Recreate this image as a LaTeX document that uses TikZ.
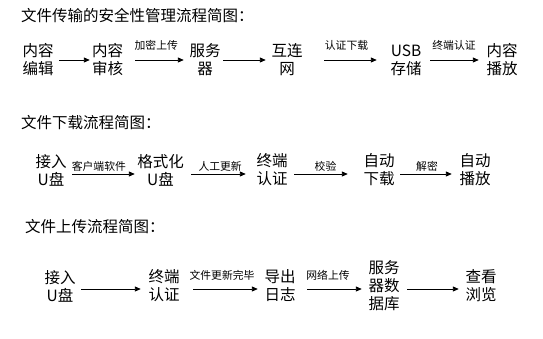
\documentclass[tikz,border=0pt]{standalone}
\usepackage{fontspec}
\setmainfont{Noto Sans CJK SC}
\usetikzlibrary{arrows.meta}

\begin{document}
\begin{tikzpicture}[
        x=1pt, y=-1pt,
        title/.style={anchor=west, inner sep=0pt, font=\fontsize{15.5}{18}\selectfont},
        stepbox/.style={inner sep=0pt, align=center, font=\fontsize{15.5}{18}\selectfont},
        lbl/.style={inner sep=0pt, font=\fontsize{10.8}{12}\selectfont, yshift=#1},
        arr/.style={-{Triangle[length=6pt, width=5pt]}, line width=0.9pt},
        sh/.style 2 args={shorten <=#1pt, shorten >=#2pt}
    ]
        \useasboundingbox (0,0) rectangle (543,338);

        % 安全性管理流程
        \node[title] (t1) at (21,16) {文件传输的安全性管理流程简图：};
        \node[stepbox] (edit)   at (38,60)    {内容\\编辑};
        \node[stepbox] (review) at (107.5,60) {内容\\审核};
        \node[stepbox] (server) at (205,60)   {服务\\器};
        \node[stepbox] (net)    at (287,60)   {互连\\网};
        \node[stepbox] (usb)    at (406,60)   {USB\\存储};
        \node[stepbox] (play)   at (502,60)   {内容\\播放};

        \draw[arr, sh={5.5}{2}] (edit) -- (review);
        \draw[arr, sh={12}{5.5}] (review) -- node[lbl=15pt]{加密上传} (server);
        \draw[arr, sh={2.5}{5.5}] (server) -- (net);
        \draw[arr, sh={21.5}{13.5}] (net) -- node[lbl=15pt]{认证下载} (usb);
        \draw[arr, sh={8.5}{7.5}] (usb) -- node[lbl=15pt]{终端认证} (play);

        % 下载流程
        \node[title] (t2) at (21,123) {文件下载流程简图：};
        \node[stepbox] (plug)   at (51,170)    {接入\\U盘};
        \node[stepbox] (format) at (160.5,170) {格式化\\U盘};
        \node[stepbox] (auth)   at (272,170)   {终端\\认证};
        \node[stepbox] (dl)     at (379,170)   {自动\\下载};
        \node[stepbox] (aplay)  at (475,170)   {自动\\播放};

        \draw[arr, sh={5.5}{2.25}, transform canvas={yshift=-4pt}] (plug) -- node[lbl=7.5pt, xshift=-3pt]{客户端软件} (format);
        \draw[arr, sh={7.25}{10.5}, transform canvas={yshift=-4pt}] (format) -- node[lbl=7.5pt]{人工更新} (auth);
        \draw[arr, sh={6.5}{15.5}, transform canvas={yshift=-4pt}] (auth) -- node[lbl=7.5pt]{校验} (dl);
        \draw[arr, sh={5.5}{7.5}, transform canvas={yshift=-4pt}] (dl) -- node[lbl=7.5pt]{解密} (aplay);

        % 上传流程
        \node[title] (t3) at (25,227) {文件上传流程简图：};
        \begin{scope}[every node/.append style={font=\fontsize{15.5}{20}\selectfont}]
            \node[stepbox] (plugup) at (60,286)  {接入\\U盘};
            \node[stepbox] (authup) at (164,286) {终端\\认证};
            \node[stepbox] (log)    at (280,286) {导出\\日志};
            \node[stepbox] (db)     at (384,286) {服务\\器数\\据库};
            \node[stepbox] (view)   at (481,286) {查看\\浏览};
        \end{scope}

        \draw[arr, sh={5.5}{7.5}, transform canvas={yshift=-3pt}] (plugup) -- (authup);
        \draw[arr, sh={13.5}{6.5}, transform canvas={yshift=-3pt}] (authup) -- node[lbl=14pt]{文件更新完毕} (log);
        \draw[arr, sh={11.5}{6.5}, transform canvas={yshift=-3pt}] (log) -- node[lbl=14pt, xshift=-4pt]{网络上传} (db);
        \draw[arr, sh={7.5}{6.5}, transform canvas={yshift=-3pt}] (db) -- (view);
    \end{tikzpicture}
\end{document}
